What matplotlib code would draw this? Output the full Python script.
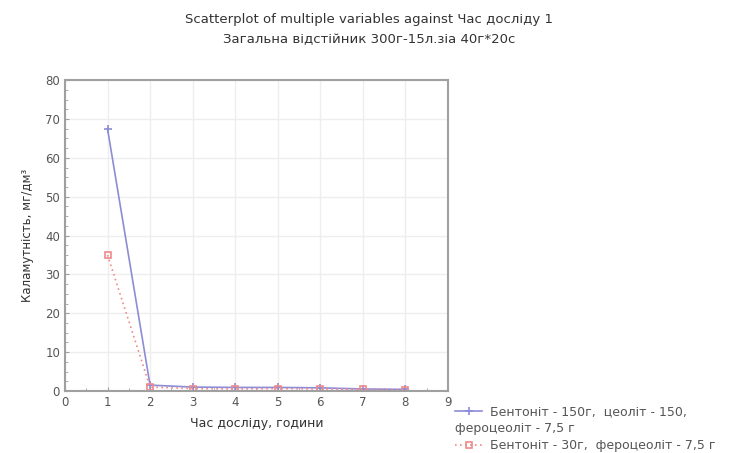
import numpy as np
import matplotlib.pyplot as plt
from matplotlib.lines import Line2D

hours = [1, 2, 3, 4, 5, 6, 7, 8]
turb_a = [67.5, 1.5, 1.0, 0.9, 0.9, 0.8, 0.5, 0.4]
turb_b = [35.0, 1.0, 0.6, 0.5, 0.6, 0.5, 0.4, 0.3]
label_a = "Бентоніт - 150г,  цеоліт - 150,"
label_a2 = "фероцеоліт - 7,5 г"
label_b = "Бентоніт - 30г,  фероцеоліт - 7,5 г"

plt.rcParams['font.family'] = ['DejaVu Sans']
fig = plt.figure(figsize=(7.38, 4.53), dpi=100)
ax = fig.add_axes([0.088, 0.137, 0.519, 0.686])

la, = ax.plot(hours, turb_a, color='#8c8cd8', lw=1.2, marker='+', ms=6, mew=1.2)
lb, = ax.plot(hours, turb_b, color='#f08a8a', lw=1.2, ls=(0, (1, 2)), marker='s',
              ms=4, mfc='none', mew=1.2)

ax.set_xlim(0, 9)
ax.set_ylim(0, 80)
ax.set_xticks(range(0, 10))
ax.set_yticks(range(0, 81, 10))
ax.set_xticks(np.arange(0, 9.01, 0.5), minor=True)
ax.set_yticks(np.arange(0, 80.1, 2.5), minor=True)
ax.grid(True, color='#eeeeee', lw=1)
for s in ax.spines.values():
    s.set_color('#a0a0a0')
    s.set_linewidth(1.5)
ax.tick_params(which='both', direction='in', colors='#a0a0a0', labelcolor='#555555',
               labelsize=8.5)
ax.tick_params(which='minor', length=2)
ax.tick_params(which='major', length=3)

ax.set_xlabel("Час досліду, години", fontsize=9, color='#333333', labelpad=6)
ax.set_ylabel("Каламутність, мг/дм³", fontsize=8.5, color='#333333', labelpad=8)
fig.suptitle("Scatterplot of multiple variables against Час досліду 1\n"
             "Загальна відстійник 300г-15л.зіа 40г*20с",
             fontsize=9.5, color='#333333', y=0.972, linespacing=1.7)

blank = Line2D([], [], lw=0)
fig.legend([la, blank, lb], [label_a, " ", label_b], loc='upper left',
           bbox_to_anchor=(0.6165, 0.105), frameon=False, fontsize=9,
           labelspacing=0.3, handlelength=2.2, handletextpad=0.6,
           borderaxespad=0, borderpad=0, labelcolor='#555555')
fig.text(0.6165, 0.053, label_a2, fontsize=9, color='#555555', va='center')

fig.savefig('out.png', dpi=100)
